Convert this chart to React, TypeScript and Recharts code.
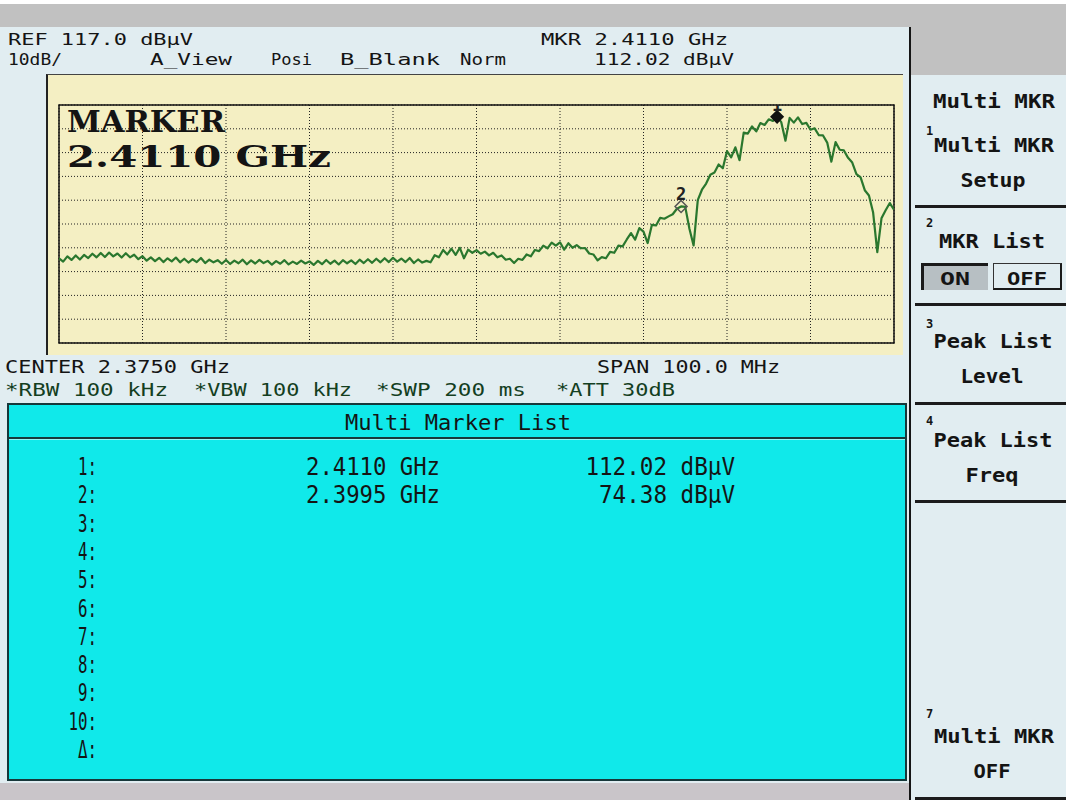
import React from "react"
import {
  ComposedChart,
  Line,
  Scatter,
  XAxis,
  YAxis,
  CartesianGrid,
  ReferenceArea,
} from "recharts"

// sweep: 2.325 GHz .. 2.425 GHz, one point every 0.5 MHz
const startGHz = 2.325
const stepGHz = 0.0005

// trace level in dBµV
const levels = [
  52.6, 51.2, 53.4, 51.9, 53.8, 52.1, 54.0, 52.7, 54.5, 53.0,
  54.8, 53.1, 55.0, 53.4, 54.6, 52.9, 54.7, 53.0, 54.1, 52.2,
  53.5, 51.6, 53.0, 51.4, 52.8, 51.0, 52.6, 51.3, 52.9, 50.9,
  52.4, 50.8, 52.2, 51.0, 52.7, 50.6, 52.0, 50.9, 51.8, 50.3,
  51.9, 50.2, 51.6, 50.5, 52.0, 50.1, 51.7, 50.4, 51.9, 50.6,
  51.5, 49.9, 51.4, 50.3, 51.8, 50.0, 51.2, 50.2, 51.6, 50.4,
  51.3, 49.8, 51.5, 50.1, 51.9, 50.3, 51.6, 50.0, 51.8, 50.5,
  51.7, 50.2, 52.0, 50.6, 52.2, 50.7, 52.4, 50.9, 52.6, 51.0,
  52.8, 51.2, 52.5, 51.0, 52.7, 50.6, 52.1, 50.8, 51.5, 50.9,
  53.9, 53.0, 56.1, 54.2, 56.6, 54.0, 57.0, 52.6, 56.2, 54.9,
  56.0, 54.5, 55.4, 53.8, 54.9, 53.0, 53.8, 52.0, 52.4, 50.6,
  52.4, 51.9, 54.2, 53.4, 56.1, 55.6, 57.9, 56.8, 59.2, 57.9,
  59.3, 56.2, 58.9, 57.0, 58.1, 56.8, 56.9, 54.6, 54.2, 51.7,
  53.1, 52.6, 55.3, 54.9, 57.9, 57.6, 60.5, 63.2, 60.4, 65.3,
  63.8, 59.0, 66.6, 66.4, 69.6, 69.2, 70.2, 71.1, 73.4, 74.38,
  74.2, 65.0, 58.0, 77.0, 81.4, 84.0, 87.7, 88.6, 92.0, 90.4,
  97.6, 95.0, 99.2, 93.8, 105.4, 105.0, 108.0, 105.9, 109.4, 108.6,
  111.0, 110.3, 112.02, 109.8, 102.0, 111.6, 109.6, 111.8, 109.0, 109.5,
  106.6, 107.2, 104.3, 104.2, 101.2, 93.2, 101.4, 98.2, 97.9, 94.8,
  92.8, 88.0, 86.6, 81.2, 79.0, 71.8, 55.2, 69.4, 72.8, 75.8,
  73.0,
]

const freqTicks = [2.325, 2.335, 2.345, 2.355, 2.365, 2.375, 2.385, 2.395, 2.405, 2.415, 2.425]
const levelTicks = [17, 27, 37, 47, 57, 67, 77, 87, 97, 107, 117]

const markerIds = ["1", "2"]
const markerFreqs = [2.411, 2.3995]
const markerLevels = [112.02, 74.38]

const listRows = ["1", "2", "3", "4", "5", "6", "7", "8", "9", "10", "Δ"]
const listFreqs = ["2.4110 GHz", "2.3995 GHz"]
const listLevels = ["112.02 dBµV", "74.38 dBµV"]

const trace = levels.map((level, i) => ({ freq: startGHz + i * stepGHz, level }))
const markers = markerIds.map((id, i) => ({ id, freq: markerFreqs[i], level: markerLevels[i] }))

const MONO = "'DejaVu Sans Mono', monospace"
const SERIF = "'DejaVu Serif', 'Liberation Serif', serif"
const PANEL = "#e1edf1"

function Txt(props: any) {
  const { x, y, w, size = 20, weight = 400, anchor = "start", fill = "#141414", family = MONO, children } = props
  return (
    <text
      x={x}
      y={y}
      fontSize={size}
      fontWeight={weight}
      fontFamily={family}
      textAnchor={anchor}
      fill={fill}
      textLength={w}
      lengthAdjust={w ? "spacingAndGlyphs" : undefined}
    >
      {children}
    </text>
  )
}

function MarkerShape(props: any) {
  const { cx, cy, payload } = props
  if (cx == null || cy == null) return null
  const filled = payload.id === "1"
  const d = `M${cx},${cy - 6} L${cx + 6},${cy} L${cx},${cy + 6} L${cx - 6},${cy} Z`
  return (
    <g>
      <path d={d} fill={filled ? "#111" : "none"} stroke={filled ? "#111" : "#555"} strokeWidth={1.5} />
      <text x={cx} y={cy - 6} fontSize={17} fontWeight={700} fontFamily={MONO} textAnchor="middle" fill="#222">
        {payload.id}
      </text>
    </g>
  )
}

function Box(props: any) {
  const { x, y, w, h, style } = props
  return <div style={{ position: "absolute", left: x, top: y, width: w, height: h, ...style }} />
}

export default function App() {
  const rowY = (k: number) => 475 + k * 28.3
  const sep = [205, 303, 402, 500, 797]
  return (
    <div style={{ position: "absolute", left: 0, top: 0, width: 1066, height: 800, background: "#c1c1c1", overflow: "hidden" }}>
      <Box x={0} y={0} w={1066} h={4} style={{ background: "#fff" }} />
      <Box x={0} y={27} w={909} h={756} style={{ background: PANEL }} />
      <Box x={0} y={783} w={909} h={17} style={{ background: "#c9c5c9" }} />
      <Box x={911} y={75} w={155} h={725} style={{ background: PANEL }} />
      <Box x={909} y={27} w={2} h={773} style={{ background: "#151515" }} />

      {/* plot area */}
      <Box x={46} y={74} w={857} h={281} style={{ background: "#f4efc3", borderLeft: "2px solid #222", borderTop: "1px solid #444", boxSizing: "border-box" }} />
      <div style={{ position: "absolute", left: 48, top: 75 }}>
        <ComposedChart width={855} height={280} data={trace} margin={{ top: 30, right: 9, bottom: 12, left: 11 }}>
          <XAxis hide type="number" dataKey="freq" domain={[freqTicks[0], freqTicks[10]]} ticks={freqTicks} allowDataOverflow />
          <YAxis hide type="number" domain={[levelTicks[0], levelTicks[10]]} ticks={levelTicks} allowDataOverflow />
          <CartesianGrid stroke="#222" strokeDasharray="1 2" strokeWidth={1} />
          <ReferenceArea
            x1={freqTicks[0]}
            x2={freqTicks[10]}
            y1={levelTicks[0]}
            y2={levelTicks[10]}
            fill="none"
            stroke="#111"
            strokeWidth={1.5}
            fillOpacity={0}
          />
          <Line
            type="linear"
            dataKey="level"
            stroke="#2a772e"
            strokeWidth={2.2}
            strokeLinejoin="round"
            dot={false}
            isAnimationActive={false}
          />
          <Scatter data={markers} dataKey="level" shape={MarkerShape} isAnimationActive={false} />
        </ComposedChart>
      </div>

      {/* marker list table */}
      <Box x={7} y={403} w={900} h={378} style={{ background: "#10e9ea", border: "2px solid #17383a", boxSizing: "border-box" }} />
      <Box x={9} y={437} w={896} h={2} style={{ background: "#17383a" }} />
      <Box x={9} y={439} w={896} h={1} style={{ background: "#8ff6f6" }} />

      {/* ON / OFF toggle */}
      <Box x={921} y={263} w={67} h={27} style={{ background: "#b7bfc3", borderLeft: "3px solid #1a1a1a", borderTop: "3px solid #1a1a1a", boxSizing: "border-box" }} />
      <Box x={993} y={263} w={69} h={27} style={{ background: PANEL, border: "1px solid #333", borderRight: "2px solid #1a1a1a", borderBottom: "2px solid #1a1a1a", boxSizing: "border-box" }} />
      {sep.map((y) => (
        <Box key={y} x={915} y={y} w={151} h={3} style={{ background: "#1c1c1c" }} />
      ))}

      <svg width={1066} height={800} style={{ position: "absolute", left: 0, top: 0, pointerEvents: "none" }}>
        {/* header */}
        <Txt x={8} y={45} w={185} size={16.5}>REF 117.0 dBµV</Txt>
        <Txt x={8} y={64.5} w={54} size={16.5}>10dB/</Txt>
        <Txt x={150} y={64.5} w={82} size={16.5}>A_View</Txt>
        <Txt x={271} y={64.5} w={41} size={16.5}>Posi</Txt>
        <Txt x={340} y={64.5} w={100} size={16.5}>B_Blank</Txt>
        <Txt x={460} y={64.5} w={46} size={16.5}>Norm</Txt>
        <Txt x={541} y={45} w={187} size={16.5}>MKR 2.4110 GHz</Txt>
        <Txt x={594} y={64.5} w={140} size={16.5}>112.02 dBµV</Txt>

        {/* big marker readout */}
        <Txt x={67} y={131.5} w={158} size={29.5} weight={700} family={SERIF}>MARKER</Txt>
        <Txt x={67} y={167} w={264} size={29.5} weight={700} family={SERIF}>2.4110 GHz</Txt>

        {/* sweep settings */}
        <Txt x={5} y={373} w={225} size={18}>CENTER 2.3750 GHz</Txt>
        <Txt x={597} y={373} w={183} size={18}>SPAN 100.0 MHz</Txt>
        <Txt x={5} y={395.5} w={163} size={18} fill="#143f1f">*RBW 100 kHz</Txt>
        <Txt x={194} y={395.5} w={158} size={18} fill="#143f1f">*VBW 100 kHz</Txt>
        <Txt x={376} y={395.5} w={150} size={18} fill="#143f1f">*SWP 200 ms</Txt>
        <Txt x={556} y={395.5} w={119} size={18} fill="#143f1f">*ATT 30dB</Txt>

        {/* list */}
        <Txt x={458} y={430} w={226} size={22} anchor="middle">Multi Marker List</Txt>
        {listRows.map((r, k) => (
          <Txt key={r} x={97} y={rowY(k)} w={(r.length + 1) * 9.5} size={24} anchor="end">{r + ":"}</Txt>
        ))}
        {listFreqs.map((f, k) => (
          <Txt key={f} x={306} y={rowY(k)} w={134} size={24}>{f}</Txt>
        ))}
        {listLevels.map((l, k) => (
          <Txt key={l} x={735} y={rowY(k)} w={l.length * 13.6} size={24} anchor="end">{l}</Txt>
        ))}

        {/* soft keys */}
        <Txt x={994} y={108} w={122} weight={700} anchor="middle">Multi MKR</Txt>
        <Txt x={926} y={135} size={12} weight={700}>1</Txt>
        <Txt x={994} y={152} w={120} weight={700} anchor="middle">Multi MKR</Txt>
        <Txt x={993} y={187} w={65} weight={700} anchor="middle">Setup</Txt>
        <Txt x={926} y={227} size={12} weight={700}>2</Txt>
        <Txt x={992} y={248} w={106} weight={700} anchor="middle">MKR List</Txt>
        <Txt x={955} y={285} w={30} size={18} weight={700} anchor="middle">ON</Txt>
        <Txt x={1027} y={285} w={40} size={18} weight={700} anchor="middle">OFF</Txt>
        <Txt x={926} y={328} size={12} weight={700}>3</Txt>
        <Txt x={993} y={348} w={119} weight={700} anchor="middle">Peak List</Txt>
        <Txt x={992} y={383} w={63} weight={700} anchor="middle">Level</Txt>
        <Txt x={926} y={425} size={12} weight={700}>4</Txt>
        <Txt x={993} y={447} w={119} weight={700} anchor="middle">Peak List</Txt>
        <Txt x={992} y={482} w={53} weight={700} anchor="middle">Freq</Txt>
        <Txt x={926} y={718} size={12} weight={700}>7</Txt>
        <Txt x={994} y={743} w={120} weight={700} anchor="middle">Multi MKR</Txt>
        <Txt x={992} y={778} w={37} weight={700} anchor="middle">OFF</Txt>
      </svg>
    </div>
  )
}
